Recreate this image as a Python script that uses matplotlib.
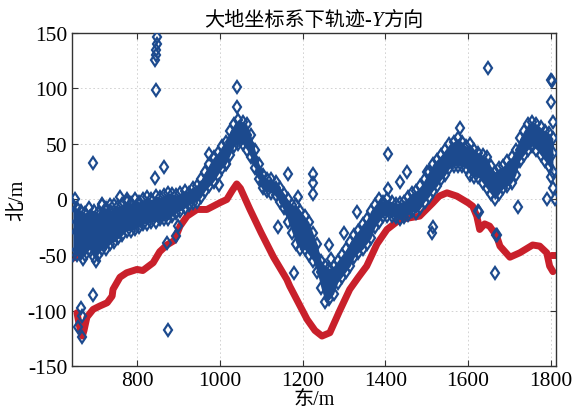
import matplotlib.pyplot as plt
from matplotlib.offsetbox import TextArea, HPacker, AnchoredOffsetbox

plt.rcParams['font.family'] = ['Liberation Serif', 'Noto Sans CJK SC']
plt.rcParams['axes.unicode_minus'] = False

# 红色轨迹 (主段 + 两端的小段)
red_x = [655, 660, 665, 668, 672, 679, 694, 710, 728, 740, 742, 759, 775, 800, 814,
         839, 855, 872, 890, 904, 921, 945, 969, 1000, 1017, 1030, 1041, 1050, 1073,
         1100, 1130, 1162, 1169, 1190, 1211, 1230, 1247, 1266, 1290, 1314, 1335, 1355,
         1380, 1404, 1435, 1483, 1515, 1530, 1549, 1573, 1600, 1611, 1621, 1628, 1640,
         1652, 1669, 1677, 1701, 1725, 1756, 1773, 1790, 1797, 1805]
red_y = [-102, -112, -120, -123, -118, -106, -99, -96, -93, -87, -81, -70, -66, -63, -64,
         -57, -47, -41, -37, -24, -15, -9, -9, -3, 0, 8, 14, 10, -9,
         -30, -52, -72, -78, -93, -108, -118, -123, -120, -100, -81, -70, -60,
         -40, -27, -18, -15, -3, 3, 6, 3, -3, -6, -15, -27, -22,
         -24, -33, -42, -52, -48, -41, -42, -48, -60, -65]
red_left_x = [645, 652, 660]
red_left_y = [-53, -52, -51]
red_right_x = [1800, 1812]
red_right_y = [-50, -50]

# 蓝色轨迹带: 上沿 / 中线 / 下沿
blue_x = list(range(645, 1806, 10))
blue_top = [-5, -8, -10, -12, -8, -10, -12, -5, -8, -10,
            -5, -6, -4, -2, -3, 0, -2, 0, 2, 0,
            3, 2, 4, 6, 5, 4, 6, 8, 6, 10,
            12, 18, 25, 32, 38, 42, 48, 52, 62, 68,
            72, 70, 68, 58, 45, 32, 22, 18, 18, 16,
            10, 5, 0, -5, -5, -10, -15, -20, -30, -40,
            -55, -60, -62, -60, -55, -50, -45, -38, -32, -28,
            -22, -18, -10, -5, 0, -2, 0, -2, -4, -3,
            -2, 2, 6, 8, 12, 18, 25, 32, 36, 40,
            45, 50, 52, 55, 52, 48, 50, 45, 42, 40,
            38, 30, 25, 28, 30, 35, 38, 45, 55, 62,
            68, 70, 68, 65, 62, 60, 55]
blue_mid = [-25, -28, -30, -32, -25, -30, -32, -25, -28, -25,
            -20, -20, -18, -15, -14, -12, -12, -10, -8, -8,
            -6, -6, -5, -5, -4, -3, -2, 0, 2, 4,
            6, 10, 15, 22, 26, 30, 38, 42, 52, 58,
            62, 60, 58, 48, 36, 25, 16, 12, 12, 10,
            4, -2, -10, -15, -20, -25, -30, -35, -42, -52,
            -65, -75, -78, -70, -65, -60, -55, -48, -42, -38,
            -34, -28, -22, -15, -10, -8, -8, -10, -10, -10,
            -8, -6, -2, -2, 2, 8, 14, 20, 25, 30,
            34, 40, 42, 44, 40, 38, 35, 30, 30, 28,
            25, 18, 12, 15, 20, 24, 26, 32, 45, 52,
            56, 60, 58, 55, 50, 48, 42]
blue_bot = [-50, -50, -48, -50, -45, -52, -50, -45, -45, -40,
            -38, -35, -32, -28, -28, -27, -25, -22, -22, -20,
            -20, -18, -18, -18, -15, -12, -10, -8, -5, -3,
            -2, 2, 8, 12, 16, 22, 28, 32, 40, 48,
            50, 50, 45, 38, 28, 18, 10, 8, 6, 4,
            -2, -8, -20, -30, -40, -45, -45, -50, -55, -65,
            -80, -92, -90, -85, -75, -70, -65, -60, -52, -48,
            -45, -40, -35, -25, -20, -15, -15, -15, -16, -18,
            -16, -14, -10, -12, -8, -2, 2, 8, 12, 18,
            22, 28, 30, 30, 30, 28, 22, 20, 20, 15,
            10, 5, 0, 5, 10, 12, 15, 22, 35, 40,
            45, 48, 45, 40, 35, 30, 25]

# 蓝色离散点
out_x = [694, 848, 848, 847, 846, 843, 846, 843, 865, 1041, 1041, 974, 998, 1015,
         694, 665, 667, 657, 667, 875, 872, 899, 894, 670, 776, 715, 1165, 1406,
         1406, 1225, 1225, 1225, 1331, 1264, 1268, 1179, 1435, 1452, 1580, 1790,
         1809, 1800, 1800, 1802, 1515, 1513, 1720, 1667, 1626, 1648, 1664, 1623,
         1669, 1805, 1795, 1800, 1805, 650, 700, 735, 760, 1140, 1190, 1300, 1500]
out_y = [33, 146, 140, 135, 130, 126, 99, 19, 29, 101, 83, 41, 13, 32,
         -86, -98, -105, -115, -124, -118, -39, -24, -33, -54, 0, -4, 23, 41,
         9, 23, 15, 5, -11, -41, -54, -66, 16, 25, 64, 0,
         0, 88, 108, 107, -25, -30, -7, -32, -11, 118, -66, -10,
         -32, 70, 40, 20, 10, 0, -55, -5, 2, -25, 2, -30, 25]

fig = plt.figure(figsize=(5.76, 4.14), dpi=100)
ax = fig.add_axes([0.125, 0.1135, 0.84, 0.8045])

blue = '#1c4a8e'
red = '#c9202b'

ax.plot(red_x, red_y, '-', color=red, lw=5, solid_capstyle='round', solid_joinstyle='round', zorder=2)
ax.plot(red_left_x, red_left_y, '-', color=red, lw=5, solid_capstyle='round', zorder=2)
ax.plot(red_right_x, red_right_y, '-', color=red, lw=5, solid_capstyle='round', zorder=2)

ax.fill_between(blue_x, blue_bot, blue_top, color=blue, lw=0, zorder=3)
kw = dict(ls='none', marker='d', ms=6, mfc='none', mec=blue, mew=1.6, zorder=3)
ax.plot(blue_x, blue_top, **kw)
ax.plot(blue_x, blue_mid, **kw)
ax.plot(blue_x, blue_bot, **kw)
ax.plot(out_x, out_y, **kw)

ax.set_xlim(643, 1812)
ax.set_ylim(-150, 150)
ax.set_xticks([800, 1000, 1200, 1400, 1600, 1800])
ax.set_yticks([-150, -100, -50, 0, 50, 100, 150])
ax.grid(True, ls=(0, (2, 3)), color='#cccccc', lw=0.6)
ax.tick_params(direction='in', top=True, right=True, labelsize=15.5, length=4, color='#333333')
for s in ax.spines.values():
    s.set_color('#333333')
    s.set_linewidth(1.0)

# 标题: Y 用斜体
fam = ['Liberation Serif', 'Noto Sans CJK SC']
parts = [TextArea('大地坐标系下轨迹-', textprops=dict(fontsize=14.5, family=fam)),
         TextArea('Y', textprops=dict(fontsize=15, family=fam, style='italic')),
         TextArea('方向', textprops=dict(fontsize=14.5, family=fam))]
box = HPacker(children=parts, pad=0, sep=0, align='baseline')
title = AnchoredOffsetbox(loc='lower center', child=box, pad=0, frameon=False,
                          bbox_to_anchor=(0.5, 1.01), bbox_transform=ax.transAxes, borderpad=0)
ax.add_artist(title)

ax.set_xlabel('东/m', fontsize=14.5, labelpad=0)
ax.set_ylabel('北/m', fontsize=14.5, labelpad=0)

fig.savefig('out.png', dpi=100)
